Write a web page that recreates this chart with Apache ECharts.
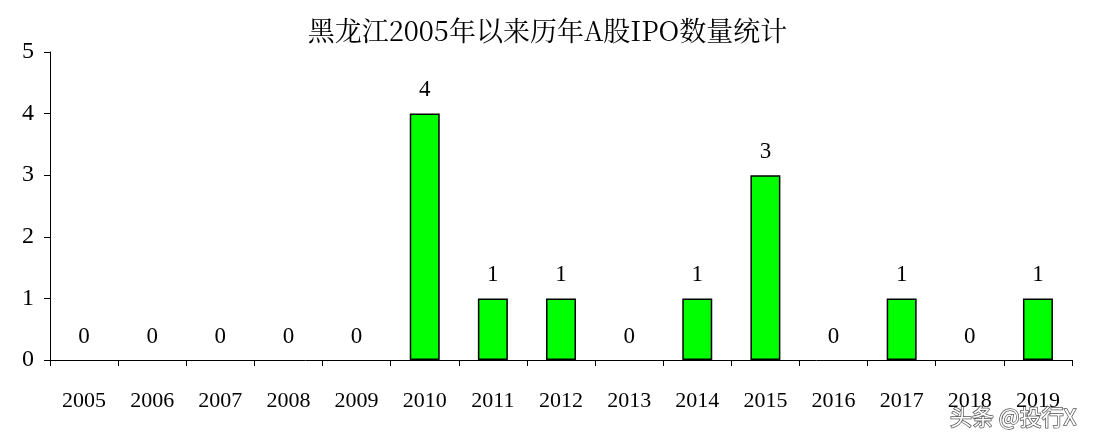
<!DOCTYPE html><html><head><meta charset="utf-8"><script src="https://cdn.jsdelivr.net/npm/echarts@6/dist/echarts.min.js"></script></head><body style="margin:0;background:#fff"><div id="c" style="width:1095px;height:438px"></div><script>
const categories=['2005','2006','2007','2008','2009','2010','2011','2012','2013','2014','2015','2016','2017','2018','2019'];
const values=[0,0,0,0,0,4,1,1,0,1,3,0,1,0,1];
const yTicks=[0,1,2,3,4,5];
const ch=echarts.init(document.getElementById('c'));
const serif='"Liberation Serif","DejaVu Serif",serif';
ch.setOption({
title:{text:'黑龙江2005年以来历年A股IPO数量统计',left:'center',top:12,textStyle:{fontFamily:'"Noto Serif CJK SC","Noto Sans CJK SC",'+serif,fontSize:27,fontWeight:'normal',color:'#000'}},
grid:{left:50,right:23,top:52,bottom:78},
xAxis:{type:'category',data:categories,axisLine:{lineStyle:{color:'#000'}},axisTick:{show:true,length:6,lineStyle:{color:'#000'}},axisLabel:{fontFamily:serif,fontSize:22,color:'#000',margin:30}},
yAxis:{type:'value',min:0,max:5,interval:1,splitLine:{show:false},axisLine:{show:true,lineStyle:{color:'#000'}},axisTick:{show:true,length:6,lineStyle:{color:'#000'}},axisLabel:{fontFamily:serif,fontSize:24,color:'#000',margin:16,formatter:v=>yTicks.includes(v)?String(v):''}},
series:[{type:'bar',data:values.map(v=>({value:v,itemStyle:{borderWidth:v===0?0:1.5}})),barWidth:'44%',itemStyle:{color:'#00FF00',borderColor:'#000'},label:{show:true,position:'top',distance:12,fontFamily:serif,fontSize:23,color:'#000'}}],
graphic:[{type:'text',right:18,bottom:10,style:{text:'头条 @投行X',font:'22px "Noto Sans CJK SC"',fill:'#fff',stroke:'#555',lineWidth:1.5}}]
});
</script></body></html>
